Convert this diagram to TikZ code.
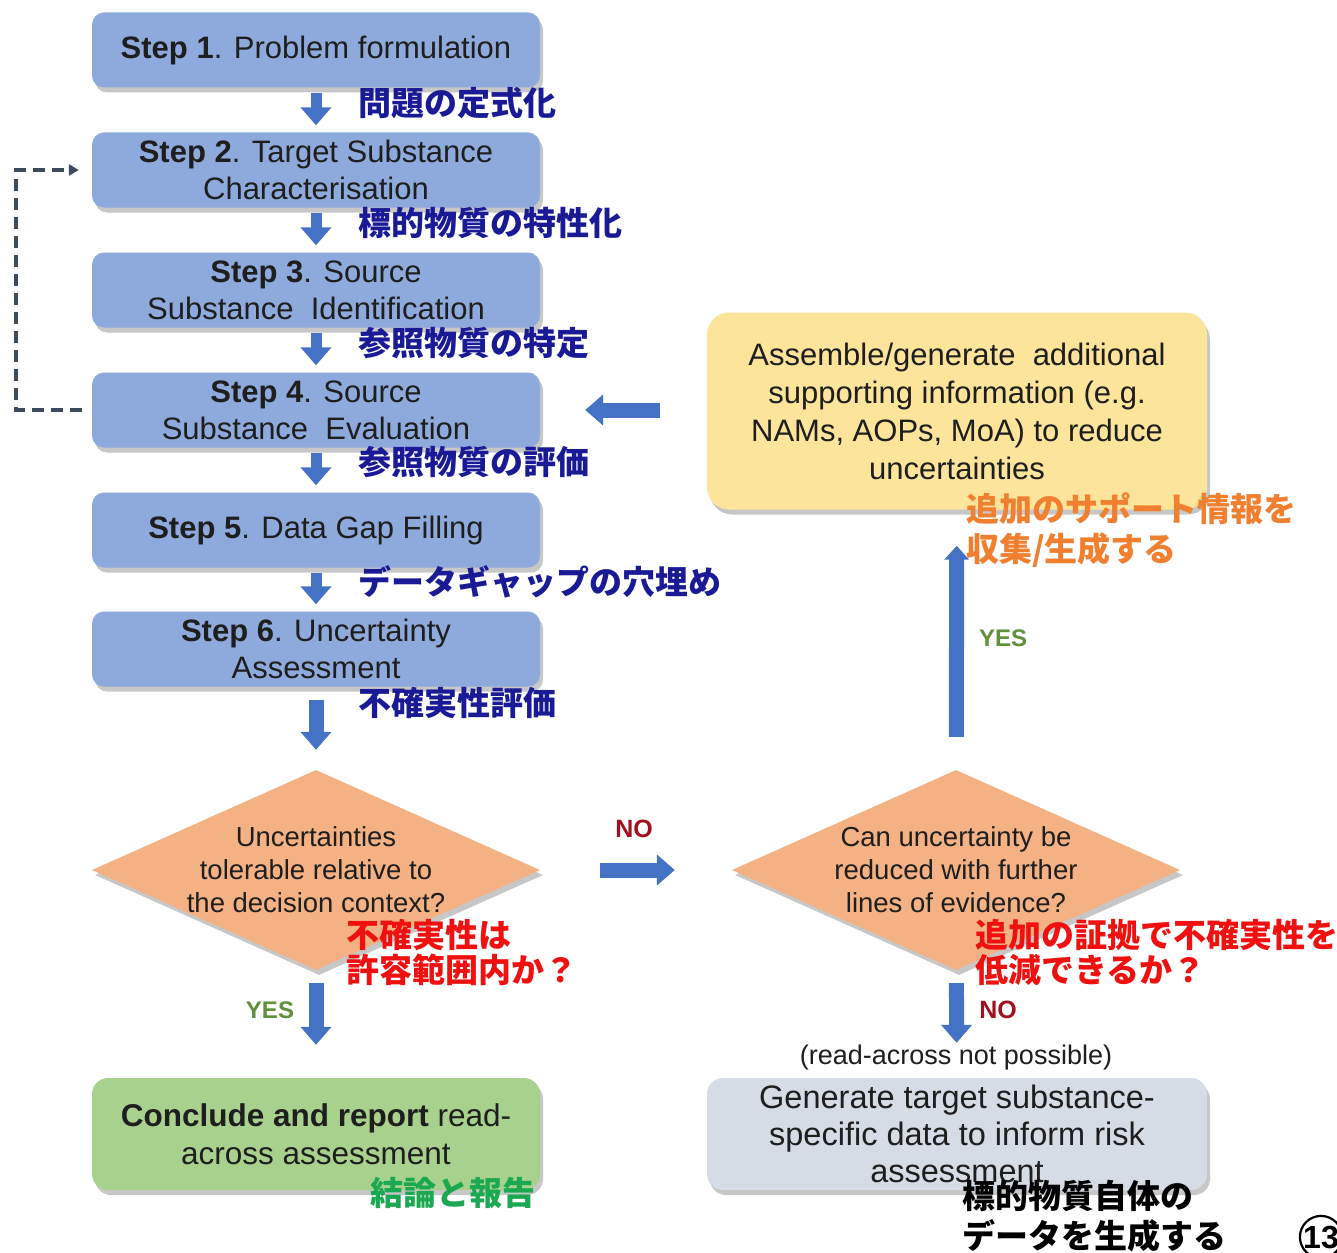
\documentclass[tikz,border=0pt]{standalone}
\usepackage{fontspec}
\setmainfont{Liberation Sans}
\newfontfamily\jp{Noto Sans CJK JP}
\usetikzlibrary{shapes.geometric,arrows.meta,shadows}
\definecolor{stepblue}{RGB}{142,169,219}
\definecolor{arrowblue}{RGB}{68,114,196}
\definecolor{peach}{RGB}{244,177,131}
\definecolor{paleyellow}{RGB}{253,228,155}
\definecolor{palegreen}{RGB}{169,209,142}
\definecolor{palegrey}{RGB}{214,220,229}
\definecolor{jpblue}{RGB}{26,26,150}
\definecolor{jpred}{RGB}{240,16,16}
\definecolor{jporange}{RGB}{240,128,48}
\definecolor{jpgreen}{RGB}{26,168,80}
\definecolor{nored}{RGB}{160,16,32}
\definecolor{yesgreen}{RGB}{96,144,58}
\definecolor{dashgrey}{RGB}{60,74,92}
\definecolor{textdark}{RGB}{30,30,30}
\begin{document}
\begin{tikzpicture}[x=1pt,y=-1pt,
  boxshadow/.style={drop shadow={shadow xshift=3pt,shadow yshift=-5pt,opacity=0.22,fill=black}},
  stepbox/.style={rectangle,rounded corners=12pt,fill=stepblue,minimum width=448pt,minimum height=75pt,
    align=center,font=\fontsize{31}{37}\selectfont,text=textdark,inner sep=0pt,boxshadow},
  bigbox/.style={rectangle,rounded corners=22pt,minimum width=500pt,align=center,
    font=\fontsize{31}{38}\selectfont,text=textdark,inner sep=0pt,boxshadow},
  decision/.style={diamond,fill=peach,minimum width=448pt,minimum height=200pt,inner sep=0pt,aspect=2.24,boxshadow},
  dtext/.style={align=center,font=\fontsize{27.5}{33}\selectfont,text=textdark},
  smallarrow/.style={draw=arrowblue,line width=11pt,-{Triangle[width=30pt,length=18pt]}},
  blockarrow/.style={draw=arrowblue,line width=15pt,-{Triangle[width=30pt,length=18pt]}},
  dashconn/.style={draw=dashgrey,line width=3.5pt,dash pattern=on 12pt off 7pt,-{Triangle[width=11pt,length=10pt]}},
  jplab/.style={anchor=west,inner sep=0pt,align=left,font=\jp\bfseries\fontsize{33}{35}\selectfont},
  nolab/.style={font=\bfseries\fontsize{25}{25}\selectfont,text=nored},
  yeslab/.style={font=\bfseries\fontsize{24}{24}\selectfont,text=yesgreen}]
\useasboundingbox (0,0) rectangle (1337,1252);
\clip (0,0) rectangle (1337,1252);
\fill[white] (0,0) rectangle (1337,1252);

% steps
\node[stepbox] (s1) at (316,50) {\textbf{Step 1}. Problem formulation};
\node[stepbox] (s2) at (316,170) {\textbf{Step 2}. Target Substance\\Characterisation};
\node[stepbox] (s3) at (316,290) {\textbf{Step 3}. Source\\Substance\ \ Identification};
\node[stepbox] (s4) at (316,410) {\textbf{Step 4}. Source\\Substance\ \ Evaluation};
\node[stepbox] (s5) at (316,530) {\textbf{Step 5}. Data Gap Filling};
\node[stepbox] (s6) at (316,649) {\textbf{Step 6}. Uncertainty\\Assessment};

% decisions
\node[decision,label={[dtext]center:Uncertainties\\tolerable relative to\\the decision context?}] (d1) at (316,870) {};
\node[decision,label={[dtext]center:Can uncertainty be\\reduced with further\\lines of evidence?}] (d2) at (956,870) {};

% outcome boxes
\node[bigbox,fill=paleyellow,minimum height=197pt] (yb) at (957,411)
  {Assemble/generate\ \ additional\\supporting information (e.g.\\NAMs, AOPs, MoA) to reduce\\uncertainties};
\node[stepbox,fill=palegreen,minimum height=112pt,rounded corners=16pt,font=\fontsize{31.5}{38}\selectfont] (gb) at (316,1134)
  {\textbf{Conclude and report} read-\\across assessment};
\node[bigbox,fill=palegrey,minimum height=112pt,rounded corners=16pt,font=\fontsize{32.5}{37}\selectfont] (rb) at (957,1134)
  {Generate target substance-\\specific data to inform risk\\assessment};

% step arrows
\draw[smallarrow,shorten <=5pt,shorten >=7pt] (s1) -- (s2);
\draw[smallarrow,shorten <=5pt,shorten >=7pt] (s2) -- (s3);
\draw[smallarrow,shorten <=5pt,shorten >=7pt] (s3) -- (s4);
\draw[smallarrow,shorten <=5pt,shorten >=7pt] (s4) -- (s5);
\draw[smallarrow,shorten <=5pt,shorten >=7pt] (s5) -- (s6);
\draw[blockarrow,shorten <=13pt,shorten >=20pt] (s6) -- (d1);
\draw[blockarrow,shorten <=13pt,shorten >=33pt] (d1) -- (gb);
\draw[blockarrow,shorten <=60pt,shorten >=57pt] (d1) -- (d2);
\draw[draw=arrowblue,line width=15pt,-{Triangle[width=24pt,length=14pt]},shorten <=33pt,shorten >=36pt] (d2) -- (yb);
\draw[blockarrow,shorten <=13pt,shorten >=35pt] (d2) -- (rb);
\draw[blockarrow,shorten <=47pt,shorten >=45pt] (yb.west |- s4) -- (s4);

% dashed feedback
\coordinate (dc) at (16,410);
\draw[dashconn] ([xshift=-10pt]s4.west) -- (dc) |- ([xshift=-13pt]s2.west);

% connector labels
\node[nolab] (no1) at (634,829) {NO};
\node[yeslab] (yes1) at (270,1010) {YES};
\node[yeslab] (yes2) at (1003,638) {YES};
\node[nolab] (no2) at (998,1010) {NO};
\node[font=\fontsize{27}{27}\selectfont,text=textdark] (rap) at (956,1058) {(read-across not possible)};

% Japanese annotations
\node[jplab,text=jpblue] (j1) at (358,103) {問題の定式化};
\node[jplab,text=jpblue] (j2) at (358,223) {標的物質の特性化};
\node[jplab,text=jpblue] (j3) at (358,343) {参照物質の特定};
\node[jplab,text=jpblue] (j4) at (358,462) {参照物質の評価};
\node[jplab,text=jpblue] (j5) at (358,582) {データギャップの穴埋め};
\node[jplab,text=jpblue] (j6) at (358,703) {不確実性評価};
\node[jplab,text=jpred] (j7) at (346,952) {不確実性は\\許容範囲内か？};
\node[jplab,text=jpred] (j8) at (975,952) {追加の証拠で不確実性を\\低減できるか？};
\node[jplab,text=jporange,font=\jp\bfseries\fontsize{33}{40}\selectfont] (j9) at (966,530) {追加のサポート情報を\\収集/生成する};
\node[jplab,text=jpgreen] (j10) at (370,1193) {結論と報告};
\node[jplab,text=black,font=\jp\bfseries\fontsize{33}{40}\selectfont] (j11) at (962,1216) {標的物質自体の\\データを生成する};

% page number
\node[circle,draw=black,line width=2.2pt,inner sep=0pt,minimum size=40pt,font=\bfseries\fontsize{32}{32}\selectfont] (pg) at (1321,1237) {13};
\end{tikzpicture}
\end{document}
